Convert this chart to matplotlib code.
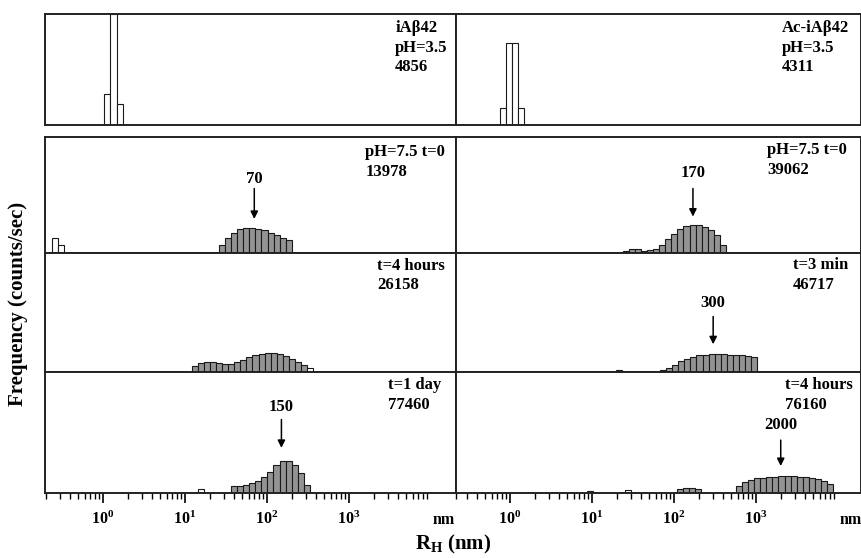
import numpy as np
import matplotlib
matplotlib.use("Agg")
import matplotlib.pyplot as plt

plt.rcParams["font.family"] = ["Liberation Serif", "DejaVu Serif"]
plt.rcParams["font.weight"] = "bold"
plt.rcParams["mathtext.fontset"] = "custom"
plt.rcParams["mathtext.rm"] = "Liberation Serif:bold"
plt.rcParams["mathtext.bf"] = "Liberation Serif:bold"
plt.rcParams["mathtext.it"] = "Liberation Serif:bold"

# largeur d'un canal DLS (en décades)
bin_w = 0.074

# --- données (hauteurs en % de la hauteur du panneau) ---
# iAβ42 pH=3.5
iab_ph35_start = 1.04
iab_ph35 = [27.6, 100, 18.6]
# Ac-iAβ42 pH=3.5
ac_ph35_start = 0.755
ac_ph35 = [15.6, 73.9, 73.9, 15.6]

# iAβ42 pH=7.5
iab_t0_start = 26.0
iab_t0 = [6.6, 12.8, 17.1, 20.3, 21.4, 21.4, 20.8, 19.4, 17.4, 15.1, 12.8, 10.9]
iab_t0_open_start = 0.24
iab_t0_open = [12.8, 6.8]

iab_4h_start = 12.1
iab_4h = [5, 7.5, 8.1, 8.1, 7.5, 6.9, 6.9, 8.1, 10, 12.5, 13.9, 15.3, 15.8, 15.8,
          15, 13.3, 11.1, 8.3, 5.6]
iab_4h_open_start = 305
iab_4h_open = [3.3]

iab_1d_start = 36.4
iab_1d = [5.6, 6.1, 6.9, 8.3, 10.3, 13.1, 17.2, 22.8, 26.1, 26.4, 23.3, 16.7, 6.9]
iab_1d_open_start = 14.4
iab_1d_open = [3.3]

# Ac-iAβ42 pH=7.5
ac_t0_start = 23.7
ac_t0 = [1.7, 3.7, 3.4, 2, 2.3, 3.7, 7.2, 11.8, 16.6, 20.4, 23.3, 24.4, 24.4, 22.4,
         19.6, 15.3, 6.6]

ac_3m_start = 67.5
ac_3m = [1.9, 3.6, 6.1, 8.9, 11.1, 12.8, 13.9, 14.4, 14.8, 14.8, 14.8, 14.6, 14.3,
         14, 13.6, 12.9]
ac_3m_small_start = 19.6
ac_3m_small = [1.9]

ac_4h_start = 570
ac_4h = [5.8, 9.2, 11.1, 12.2, 12.8, 13.3, 13.6, 13.9, 13.9, 13.9, 13.6, 13.1, 12.5,
         11.7, 10, 7.2]
ac_4h_small_start = 108
ac_4h_small = [3.6, 4.4, 4.4, 3.1]
ac_4h_open1_start = 8.7
ac_4h_open1 = [1.3]
ac_4h_open2_start = 25.2
ac_4h_open2 = [2.8]

top_labels = ["iAβ42\npH=3.5\n4856", "Ac-iAβ42\npH=3.5\n4311"]
row_labels = [["pH=7.5 t=0\n13978", "pH=7.5 t=0\n39062"],
              ["t=4 hours\n26158", "t=3 min\n46717"],
              ["t=1 day\n77460", "t=4 hours\n76160"]]
peaks = {(0, 0): 70, (0, 1): 170, (1, 1): 300, (2, 0): 150, (2, 1): 2000}

tick_vals = [1, 10, 100, 1000]
tick_labels = [r"$10^{0}$", r"$10^{1}$", r"$10^{2}$", r"$10^{3}$"]

GREY = "#939393"
EDGE = "#1a1a1a"


def draw_bars(ax, start, heights, fill):
    edges = start * 10 ** (bin_w * np.arange(len(heights) + 1))
    ax.bar(edges[:-1], heights, width=np.diff(edges), align="edge",
           color=fill, edgecolor=EDGE, linewidth=0.8)


W, H = 862, 558
fig = plt.figure(figsize=(W / 100, H / 100), dpi=100)


def px_axes(x0, x1, y0, y1):
    return fig.add_axes([x0 / W, 1 - y1 / H, (x1 - x0) / W, (y1 - y0) / H])


col_x = [(45, 456), (456, 861)]
col_lim = [(10 ** -0.707, 10 ** 4.305), (10 ** -0.659, 10 ** 4.28)]
row_y = [(137, 253), (253, 372), (372, 493)]

axes_top = [px_axes(x0, x1, 14, 125) for x0, x1 in col_x]
axes = [[px_axes(x0, x1, y0, y1) for x0, x1 in col_x] for y0, y1 in row_y]

all_axes = axes_top + [a for r in axes for a in r]
for i, ax in enumerate(all_axes):
    c = i % 2
    ax.set_xscale("log")
    ax.set_xlim(*col_lim[c])
    ax.set_ylim(0, 100)
    ax.set_yticks([])
    for s in ax.spines.values():
        s.set_linewidth(1.4)
        s.set_color("#222222")
    ax.tick_params(axis="x", which="both", bottom=False, labelbottom=False)

# pH 3.5
draw_bars(axes_top[0], iab_ph35_start, iab_ph35, "white")
draw_bars(axes_top[1], ac_ph35_start, ac_ph35, "white")

# iAβ42
draw_bars(axes[0][0], iab_t0_start, iab_t0, GREY)
draw_bars(axes[0][0], iab_t0_open_start, iab_t0_open, "white")
draw_bars(axes[1][0], iab_4h_start, iab_4h, GREY)
draw_bars(axes[1][0], iab_4h_open_start, iab_4h_open, "white")
draw_bars(axes[2][0], iab_1d_start, iab_1d, GREY)
draw_bars(axes[2][0], iab_1d_open_start, iab_1d_open, "white")

# Ac-iAβ42
draw_bars(axes[0][1], ac_t0_start, ac_t0, GREY)
draw_bars(axes[1][1], ac_3m_start, ac_3m, GREY)
draw_bars(axes[1][1], ac_3m_small_start, ac_3m_small, GREY)
draw_bars(axes[2][1], ac_4h_start, ac_4h, GREY)
draw_bars(axes[2][1], ac_4h_small_start, ac_4h_small, GREY)
draw_bars(axes[2][1], ac_4h_open1_start, ac_4h_open1, "white")
draw_bars(axes[2][1], ac_4h_open2_start, ac_4h_open2, "white")

# textes en haut à droite
fs = 12
axes_top[0].text(0.852, 0.945, top_labels[0], transform=axes_top[0].transAxes,
                 ha="left", va="top", fontsize=fs, fontweight="bold", linespacing=1.3)
axes_top[1].text(0.805, 0.945, top_labels[1], transform=axes_top[1].transAxes,
                 ha="left", va="top", fontsize=fs, fontweight="bold", linespacing=1.3)
txt_pos = [[(0.779, 0.94), (0.768, 0.955)],
           [(0.808, 0.96), (0.832, 0.965)],
           [(0.835, 0.955), (0.812, 0.955)]]
for r in range(3):
    for c in range(2):
        x, y = txt_pos[r][c]
        axes[r][c].text(x, y, row_labels[r][c], transform=axes[r][c].transAxes,
                        ha="left", va="top", fontsize=fs, fontweight="bold",
                        linespacing=1.3)

# flèches des pics
arrow_y = {(0, 0): (64, 58, 27), (0, 1): (69, 58, 29), (1, 1): (58, 49, 21),
           (2, 0): (71, 63, 35), (2, 1): (56, 46, 20)}
for (r, c), val in peaks.items():
    ly, ty, hy = arrow_y[(r, c)]
    ax = axes[r][c]
    ax.text(val, ly, str(val), ha="center", va="center", fontsize=fs,
            fontweight="bold")
    ax.annotate("", xy=(val, hy), xytext=(val, ty),
                arrowprops=dict(arrowstyle="-|>", color="black", lw=1.1,
                                mutation_scale=11))

# axe des x (dernière rangée)
for c in range(2):
    ax = axes[2][c]
    ax.set_xticks(tick_vals)
    ax.set_xticklabels(tick_labels)
    ax.tick_params(axis="x", which="both", bottom=True, labelbottom=True,
                   direction="out", labelsize=11.5, pad=6)
    ax.tick_params(axis="x", which="major", length=7, width=1.2)
    ax.tick_params(axis="x", which="minor", length=4, width=1.0)
    ax.text(10 ** 4.16, -0.22, "nm", transform=ax.get_xaxis_transform(),
            ha="center", va="center", fontsize=11.5, fontweight="bold")

fig.text(0.021, 0.455, "Frequency (counts/sec)", rotation=90, ha="center",
         va="center", fontsize=15, fontweight="bold")
fig.text(0.526, 0.025, r"$R_H$ (nm)", ha="center", va="center", fontsize=15,
         fontweight="bold")

fig.savefig("out.png", dpi=100)
